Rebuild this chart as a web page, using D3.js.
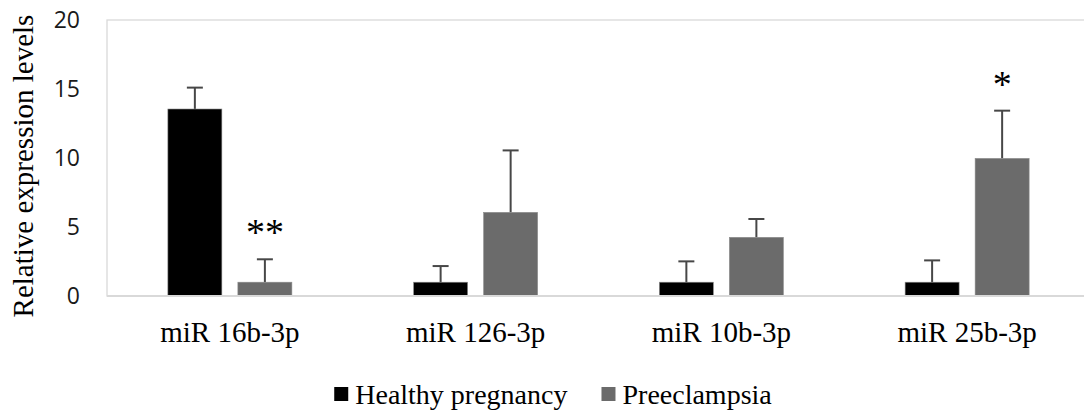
<!DOCTYPE html>
<html>
<head>
<meta charset="utf-8">
<script src="https://cdn.jsdelivr.net/npm/d3@7"></script>
<style>
  body { margin: 0; background: #fff; }
  svg { display: block; }
</style>
</head>
<body>
<svg id="chart" width="1084" height="414"></svg>
<script>
const categories = ['miR 16b-3p', 'miR 126-3p', 'miR 10b-3p', 'miR 25b-3p'];
const groups = ['Healthy pregnancy', 'Preeclampsia'];
const healthy = [13.55, 1.0, 1.0, 1.0];
const healthySD = [1.55, 1.17, 1.51, 1.58];
const preeclampsia = [1.0, 6.06, 4.25, 9.97];
const preeclampsiaSD = [1.66, 4.49, 1.33, 3.46];
const marks = ['**', '', '', '*'];
const yTicks = [0, 5, 10, 15, 20];

const colors = { 'Healthy pregnancy': '#000000', 'Preeclampsia': '#6b6b6b' };
const serif = "'Liberation Serif', 'Times New Roman', serif";

const width = 1084;
const plotLeft = 107, plotTop = 20, plotBottom = 296, plotRight = 1090;

const svg = d3.select('#chart');

const x = d3.scaleBand().domain(categories).range([plotLeft, plotRight]).padding(0);
const x1 = d3.scaleBand().domain(groups)
    .range([x.bandwidth() / 2 - 62, x.bandwidth() / 2 + 62])
    .paddingInner(0.229).paddingOuter(0);
const y = d3.scaleLinear().domain([0, 20]).range([plotBottom, plotTop]);

// plot area outline
svg.append('rect')
    .attr('x', plotLeft).attr('y', plotTop)
    .attr('width', plotRight - plotLeft).attr('height', plotBottom - plotTop)
    .attr('fill', 'none')
    .attr('stroke', '#d9d9d9')
    .attr('stroke-width', 1.3);

// y tick labels
svg.append('g')
    .selectAll('text')
    .data(yTicks)
    .enter().append('text')
    .attr('x', 80)
    .attr('y', d => y(d) + 2)
    .attr('text-anchor', 'end')
    .attr('dominant-baseline', 'middle')
    .attr('font-family', "'Open Sans', sans-serif")
    .attr('font-size', '23px')
    .attr('fill', '#1a1a1a')
    .text(d => d);

const rows = categories.map((c, i) => [
    { cat: c, group: groups[0], value: healthy[i], sd: healthySD[i], mark: '' },
    { cat: c, group: groups[1], value: preeclampsia[i], sd: preeclampsiaSD[i], mark: marks[i] }
]).flat();

const cx = d => x(d.cat) + x1(d.group) + x1.bandwidth() / 2;

// error bars
const err = svg.append('g');
err.selectAll('line.stem')
    .data(rows)
    .enter().append('line')
    .attr('class', 'stem')
    .attr('x1', cx).attr('x2', cx)
    .attr('y1', d => y(d.value))
    .attr('y2', d => y(d.value + d.sd))
    .attr('stroke', '#474747')
    .attr('stroke-width', 2);
err.selectAll('line.cap')
    .data(rows)
    .enter().append('line')
    .attr('class', 'cap')
    .attr('x1', d => cx(d) - 8)
    .attr('x2', d => cx(d) + 8)
    .attr('y1', d => y(d.value + d.sd))
    .attr('y2', d => y(d.value + d.sd))
    .attr('stroke', '#474747')
    .attr('stroke-width', 2);

// bars
svg.append('g')
    .selectAll('rect')
    .data(rows)
    .enter().append('rect')
    .attr('x', d => x(d.cat) + x1(d.group))
    .attr('y', d => y(d.value))
    .attr('width', x1.bandwidth())
    .attr('height', d => y(0) - y(d.value))
    .attr('fill', d => colors[d.group])
    .attr('stroke', '#8a8a8a')
    .attr('stroke-width', 0.6);

// x axis line
svg.append('line')
    .attr('x1', plotLeft).attr('x2', plotRight)
    .attr('y1', plotBottom).attr('y2', plotBottom)
    .attr('stroke', '#d9d9d9')
    .attr('stroke-width', 2);

// significance marks
svg.append('g')
    .selectAll('text')
    .data(rows.filter(d => d.mark))
    .enter().append('text')
    .attr('x', cx)
    .attr('y', d => y(d.value + d.sd) - 14)
    .attr('text-anchor', 'middle')
    .attr('font-family', serif)
    .attr('font-size', '38px')
    .attr('fill', '#000')
    .text(d => d.mark);

// category labels
svg.append('g')
    .selectAll('text')
    .data(categories)
    .enter().append('text')
    .attr('x', d => x(d) + x.bandwidth() / 2)
    .attr('y', 342)
    .attr('text-anchor', 'middle')
    .attr('font-family', serif)
    .attr('font-size', '29px')
    .attr('fill', '#000')
    .text(d => d);

// y title
svg.append('text')
    .attr('transform', 'translate(33,166) rotate(-90)')
    .attr('text-anchor', 'middle')
    .attr('font-family', serif)
    .attr('font-size', '29px')
    .attr('fill', '#000')
    .text('Relative expression levels');

// legend
const legend = svg.append('g');
const items = legend.selectAll('g')
    .data(groups)
    .enter().append('g');
items.append('rect')
    .attr('width', 14).attr('height', 14)
    .attr('y', 387)
    .attr('fill', d => colors[d]);
items.append('text')
    .attr('x', 21)
    .attr('y', 404)
    .attr('font-family', serif)
    .attr('font-size', '28px')
    .attr('fill', '#000')
    .text(d => d);

let pos = 0;
const gap = 34;
const offsets = [];
items.each(function () {
    offsets.push(pos);
    pos += 21 + d3.select(this).select('text').node().getComputedTextLength() + gap;
});
const total = pos - gap;
const start = width / 2 + 11 - total / 2;
items.attr('transform', (d, i) => 'translate(' + (start + offsets[i]) + ',0)');
</script>
</body>
</html>
